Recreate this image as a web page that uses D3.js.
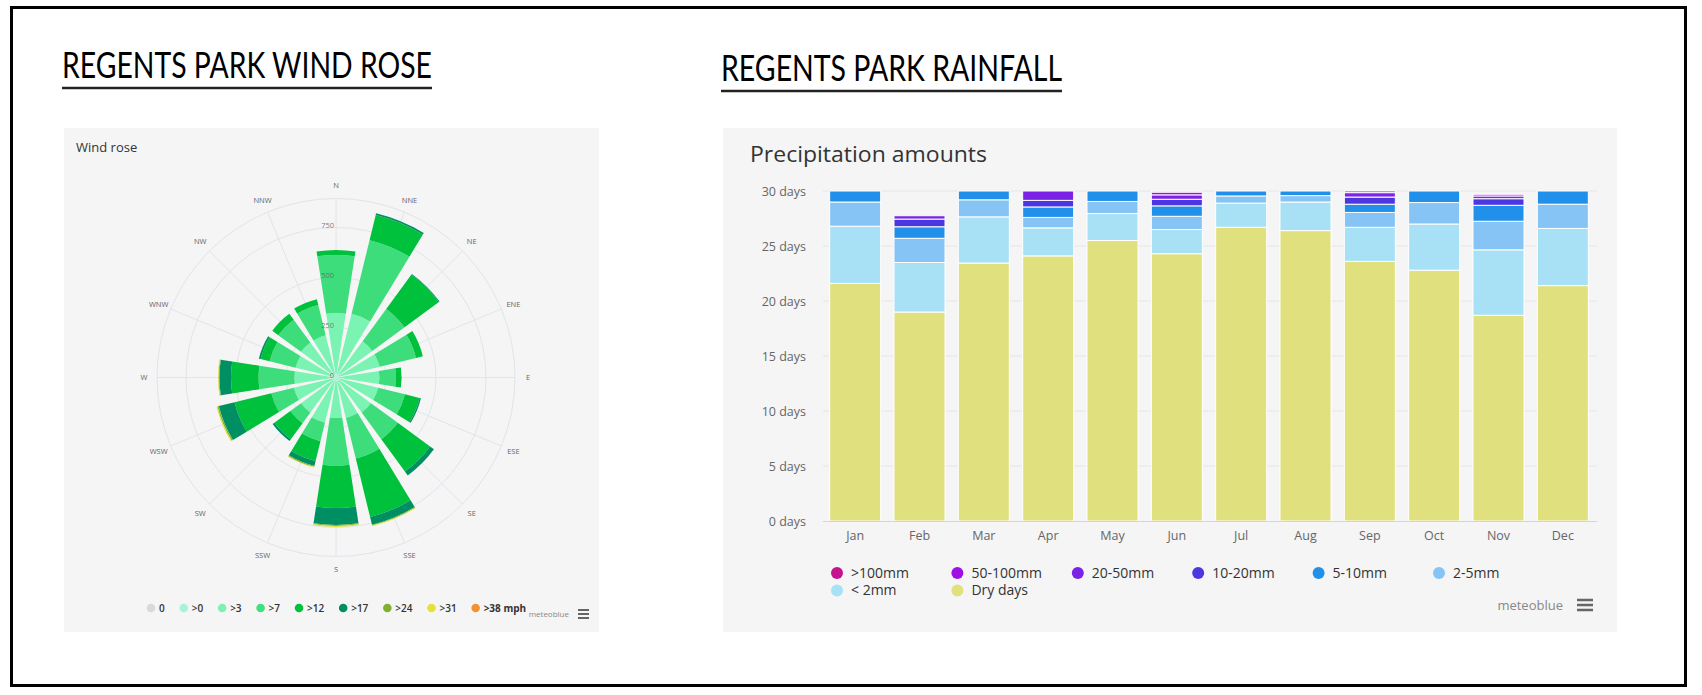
<!DOCTYPE html>
<html>
<head>
<meta charset="utf-8">
<script src="https://cdn.jsdelivr.net/npm/d3@7"></script>
<style>
  html, body { margin: 0; padding: 0; background: #fff; }
  svg { display: block; font-family: "Open Sans", "Noto Sans", sans-serif; }
</style>
</head>
<body>
<svg id="chart" width="1702" height="695"></svg>
<script>
// ---- wind rose data (counts per direction, stacked by speed bin) ----
const directions = ['N','NNE','NE','ENE','E','ESE','SE','SSE','S','SSW','SW','WSW','W','WNW','NW','NNW'];
const windGt0  = [20, 20, 20, 20, 20, 20, 20, 20, 20, 20, 20, 20, 20, 20, 20, 20];
const windGt3  = [302, 308, 205, 205, 197, 197, 197, 188, 183, 213, 197, 197, 188, 188, 197, 197];
const windGt7  = [291, 379, 200, 187, 83, 138, 166, 209, 239, 95, 66, 116, 179, 134, 141, 156];
const windGt12 = [25, 130, 213, 35, 28, 75, 200, 301, 211, 102, 99, 189, 138, 46, 37, 30];
const windGt17 = [0, 8, 4, 0, 0, 7, 24, 40, 84, 25, 11, 81, 58, 9, 0, 0];
const windGt24 = [0, 0, 0, 0, 0, 0, 0, 4, 6, 5, 0, 7, 4, 0, 0, 0];
const windGt31 = [0, 0, 0, 0, 0, 0, 0, 3, 5, 3, 0, 5, 3, 0, 0, 0];
const windTicks = [0, 250, 500, 750];
const windMax = 895;
const windLegend = ['0', '>0', '>3', '>7', '>12', '>17', '>24', '>31', '>38 mph'];
const windLegendColors = ['#d9d9d9', '#a6f3d8', '#7ef0b3', '#3ee07f', '#00c13c', '#008f63', '#80b030', '#e2e23a', '#f39233'];

// ---- rainfall data (days per month) ----
const months = ['Jan','Feb','Mar','Apr','May','Jun','Jul','Aug','Sep','Oct','Nov','Dec'];
const rainGt100   = [0, 0, 0, 0, 0, 0.1, 0, 0, 0, 0, 0, 0];
const rain50to100 = [0, 0, 0, 0, 0, 0.25, 0, 0, 0.15, 0, 0.15, 0];
const rain20to50  = [0, 0.3, 0, 0.85, 0, 0.4, 0, 0, 0.4, 0, 0.25, 0];
const rain10to20  = [0, 0.7, 0, 0.6, 0, 0.6, 0, 0, 0.65, 0, 0.6, 0];
const rain5to10   = [1.0, 1.05, 0.8, 0.95, 0.95, 0.95, 0.45, 0.42, 0.75, 1.05, 1.45, 1.2];
const rain2to5    = [2.2, 2.2, 1.55, 0.95, 1.1, 1.2, 0.65, 0.58, 1.35, 1.95, 2.6, 2.2];
const rainLt2     = [5.2, 4.5, 4.2, 2.55, 2.45, 2.2, 2.2, 2.6, 3.1, 4.2, 5.95, 5.2];
const dryDays     = [21.6, 19.0, 23.45, 24.1, 25.5, 24.3, 26.7, 26.4, 23.6, 22.8, 18.7, 21.4];
const rainTicks = [0, 5, 10, 15, 20, 25, 30];
const rainLabels = ['>100mm', '50-100mm', '20-50mm', '10-20mm', '5-10mm', '2-5mm', '< 2mm', 'Dry days'];
const rainColors = ['#c5128f', '#a010e6', '#7a22e6', '#4c36e2', '#2190ea', '#85c4f5', '#a8e1f5', '#e0e07e'];

const svg = d3.select('#chart');

// outer frame
svg.append('rect')
  .attr('x', 11.5).attr('y', 7.5).attr('width', 1674).attr('height', 678)
  .attr('fill', '#fff').attr('stroke', '#000').attr('stroke-width', 3);

// page titles
function pageTitle(text, x, y, len, lineY) {
  svg.append('text')
    .attr('x', x).attr('y', y)
    .attr('textLength', len).attr('lengthAdjust', 'spacingAndGlyphs')
    .style('font-family', '"Liberation Sans Narrow", Lato, "Open Sans", sans-serif')
    .style('font-size', '37px').attr('fill', '#000')
    .text(text);
  svg.append('line')
    .attr('x1', x).attr('x2', x + len).attr('y1', lineY).attr('y2', lineY)
    .attr('stroke', '#222').attr('stroke-width', 2.5);
}
pageTitle('REGENTS PARK WIND ROSE', 62, 78, 370, 88);
pageTitle('REGENTS PARK RAINFALL', 721, 81, 341, 91);

// ================= wind rose =================
svg.append('rect').attr('x', 64).attr('y', 128).attr('width', 535).attr('height', 504).attr('fill', '#f5f5f5');
svg.append('text').attr('x', 76).attr('y', 152).attr('fill', '#333')
  .style('font-size', '13px').text('Wind rose');

const rose = svg.append('g').attr('transform', 'translate(336,377.5)');
const angle = d3.scaleBand().domain(directions)
  .range([-Math.PI / 16, 2 * Math.PI - Math.PI / 16])
  .paddingInner(0.22).paddingOuter(0.11);
const radius = d3.scaleLinear().domain([0, windMax]).range([0, 179]);
const mid = d => angle(d) + angle.bandwidth() / 2;

// grid
rose.selectAll('circle.grid')
  .data(windTicks.slice(1).concat([windMax]))
  .enter().append('circle')
  .attr('r', d => radius(d))
  .attr('fill', 'none').attr('stroke', '#e1e4ea').attr('stroke-width', 1);
rose.selectAll('line.spoke')
  .data(directions)
  .enter().append('line')
  .attr('x1', 0).attr('y1', 0)
  .attr('x2', d => radius(windMax) * Math.sin(mid(d)))
  .attr('y2', d => -radius(windMax) * Math.cos(mid(d)))
  .attr('stroke', '#e1e4ea').attr('stroke-width', 1);

// stacked wedges
const windKeys = ['g0', 'g3', 'g7', 'g12', 'g17', 'g24', 'g31'];
const windRecords = directions.map((d, i) => ({
  dir: d, g0: windGt0[i], g3: windGt3[i], g7: windGt7[i], g12: windGt12[i],
  g17: windGt17[i], g24: windGt24[i], g31: windGt31[i]
}));
const windStack = d3.stack().keys(windKeys)(windRecords);
const windFill = ['#9ef5d2', '#7bf3b3', '#3ddd7b', '#00c13c', '#008f63', '#7fb52f', '#e0e040'];
const arc = d3.arc()
  .innerRadius(d => radius(d[0]))
  .outerRadius(d => radius(d[1]))
  .startAngle(d => angle(d.data.dir))
  .endAngle(d => angle(d.data.dir) + angle.bandwidth());
rose.selectAll('g.layer')
  .data(windStack)
  .enter().append('g')
  .attr('fill', (d, i) => windFill[i])
  .selectAll('path')
  .data(d => d.filter(p => p[1] > p[0]))
  .enter().append('path')
  .attr('d', arc);

// direction labels
rose.selectAll('text.dir')
  .data(directions)
  .enter().append('text')
  .attr('x', d => 192 * Math.sin(mid(d)))
  .attr('y', d => -192 * Math.cos(mid(d)))
  .attr('text-anchor', 'middle').attr('dy', '0.35em')
  .attr('fill', '#666').style('font-size', '7.5px')
  .text(d => d);

// radial tick labels
rose.selectAll('text.tick')
  .data(windTicks)
  .enter().append('text')
  .attr('x', -2).attr('y', d => -radius(d) - 2.5)
  .attr('text-anchor', 'end').attr('dy', '0.35em')
  .attr('fill', '#666').attr('fill-opacity', 0.85).style('font-size', '7.5px')
  .text(d => d);

// wind legend
let lx = 151;
windLegend.forEach((lab, i) => {
  const g = svg.append('g').attr('transform', `translate(${lx},608)`);
  g.append('circle').attr('r', 4.3).attr('fill', windLegendColors[i]);
  const t = g.append('text').attr('x', 8).attr('dy', '0.35em')
    .attr('fill', '#333').style('font-size', '10px')
    .style('font-weight', i === windLegend.length - 1 ? 700 : 600)
    .text(lab);
  lx += t.node().getComputedTextLength() + 27;
});
svg.append('text').attr('x', 569).attr('y', 614).attr('text-anchor', 'end').attr('dy', '0.35em')
  .attr('fill', '#888').style('font-size', '8px').text('meteoblue');
[-4, 0, 4].forEach(o => svg.append('line')
  .attr('x1', 578).attr('x2', 589).attr('y1', 614 + o).attr('y2', 614 + o)
  .attr('stroke', '#555').attr('stroke-width', 1.8));

// ================= rainfall =================
svg.append('rect').attr('x', 723).attr('y', 128).attr('width', 894).attr('height', 504).attr('fill', '#f5f5f5');
svg.append('text').attr('x', 750).attr('y', 162).attr('fill', '#333')
  .attr('textLength', 237).attr('lengthAdjust', 'spacingAndGlyphs')
  .style('font-size', '22px').text('Precipitation amounts');

const x = d3.scaleBand().domain(months).range([823, 1595])
  .paddingInner(0.207).paddingOuter(0.1035);
const y = d3.scaleLinear().domain([0, 30]).range([521, 191]);

const rainG = svg.append('g');
rainG.selectAll('line.grid')
  .data(rainTicks.slice(1))
  .enter().append('line')
  .attr('x1', 823).attr('x2', 1597)
  .attr('y1', d => y(d)).attr('y2', d => y(d))
  .attr('stroke', '#e6e6e6').attr('stroke-width', 1);

const rainKeys = ['dry', 'lt2', 'r2', 'r5', 'r10', 'r20', 'r50', 'r100'];
const rainRecords = months.map((m, i) => ({
  month: m, dry: dryDays[i], lt2: rainLt2[i], r2: rain2to5[i], r5: rain5to10[i],
  r10: rain10to20[i], r20: rain20to50[i], r50: rain50to100[i], r100: rainGt100[i]
}));
const rainStack = d3.stack().keys(rainKeys)(rainRecords);
const stackColors = rainColors.slice().reverse();
rainG.selectAll('g.series')
  .data(rainStack)
  .enter().append('g')
  .attr('fill', (d, i) => stackColors[i])
  .selectAll('rect')
  .data(d => d.filter(p => p[1] > p[0]))
  .enter().append('rect')
  .attr('x', d => x(d.data.month))
  .attr('width', x.bandwidth())
  .attr('y', d => y(d[1]))
  .attr('height', d => y(d[0]) - y(d[1]))
  .attr('stroke', '#fff').attr('stroke-width', 1);

// axes
const yAxis = d3.axisLeft(y).tickValues(rainTicks).tickSize(0).tickPadding(0)
  .tickFormat(d => d + ' days');
const yG = rainG.append('g').attr('transform', 'translate(806,0)').call(yAxis);
yG.select('.domain').remove();
yG.selectAll('text').attr('fill', '#666').style('font-size', '12.5px')
  .style('font-family', '"Open Sans", sans-serif');

const xAxis = d3.axisBottom(x).tickSize(0).tickPadding(10);
const xG = rainG.append('g').attr('transform', 'translate(0,521)').call(xAxis);
xG.select('.domain').attr('stroke', '#ccd6eb').attr('d', 'M823,0.5H1597');
xG.selectAll('text').attr('fill', '#666').style('font-size', '12.5px')
  .style('font-family', '"Open Sans", sans-serif');

// rain legend
rainLabels.forEach((lab, i) => {
  const col = i % 6, row = Math.floor(i / 6);
  const g = svg.append('g').attr('transform', `translate(${837 + col * 120.4},${573 + row * 17.5})`);
  g.append('circle').attr('r', 6).attr('fill', rainColors[i]);
  g.append('text').attr('x', 14).attr('dy', '0.35em')
    .attr('fill', '#333').style('font-size', '14px').text(lab);
});
svg.append('text').attr('x', 1563).attr('y', 605).attr('text-anchor', 'end').attr('dy', '0.35em')
  .attr('fill', '#888').style('font-size', '13px').text('meteoblue');
[-5, 0, 5].forEach(o => svg.append('line')
  .attr('x1', 1577).attr('x2', 1593).attr('y1', 605 + o).attr('y2', 605 + o)
  .attr('stroke', '#666').attr('stroke-width', 2.5));
</script>
</body>
</html>
